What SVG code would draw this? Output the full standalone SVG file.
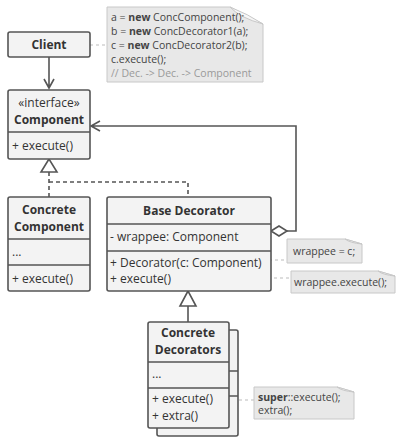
<svg xmlns="http://www.w3.org/2000/svg" width="403" height="445" viewBox="0 0 403 445">
<style>
.box{fill:#f3f3f3;stroke:#555;stroke-width:1.6}
.div{stroke:#555;stroke-width:1.6}
.t{font-family:"Open Sans","Liberation Sans",sans-serif;font-size:12px;fill:#333}
.b{font-weight:bold}
.c{text-anchor:middle}
.n{font-family:"Open Sans","Liberation Sans",sans-serif;font-size:10.5px;fill:#444}
.cm{fill:#9a9a9a}
.note{fill:#e8e8e8;stroke:#c8c8c8;stroke-width:1}
.fold{fill:#f6f6f6;stroke:#c8c8c8;stroke-width:1}
.ln{fill:none;stroke:#555;stroke-width:1.6}
.dash{fill:none;stroke:#555;stroke-width:1.6;stroke-dasharray:4 3}
.dot{fill:none;stroke:#bbb;stroke-width:1.2;stroke-dasharray:3 3}
.pin{fill:#fff;stroke:#999;stroke-width:1}
</style>
<rect width="403" height="445" fill="#fff"/>
<g id="connectors">
<path class="dot" d="M90 45H107"/>
<path class="ln" d="M49 57V88M44 79L49 88L54 79"/>
<path class="dash" d="M49 172V197M49 182H188V197"/>
<polygon points="49,159 41,172 57,172" fill="#fff" stroke="#555" stroke-width="1.6"/>
<path class="ln" d="M287 231H296V126H91M100 121L91 126L100 131"/>
<polygon points="271,231 279,226 287,231 279,236" fill="#fff" stroke="#555" stroke-width="1.6"/>
<path class="ln" d="M188 306V322"/>
<polygon points="188,291 180,306 196,306" fill="#fff" stroke="#555" stroke-width="1.6"/>
<path class="dot" d="M269 260H287"/>
<path class="dot" d="M202 278H291"/>
<path class="dot" d="M227 400H254"/>
<circle class="pin" cx="265" cy="260" r="2.5"/>
<circle class="pin" cx="198" cy="278" r="2.5"/>
<circle class="pin" cx="223" cy="400" r="2.5"/>
</g>
<g id="client">
<rect class="box" x="8" y="32" width="82" height="25" rx="2"/>
<text class="t b c" x="49" y="49">Client</text>
</g>
<g id="component">
<rect class="box" x="8" y="90" width="82" height="69" rx="2"/>
<line class="div" x1="8" y1="132" x2="90" y2="132"/>
<text class="t c" x="49" y="107">«interface»</text>
<text class="t b c" x="49" y="124">Component</text>
<text class="t" x="12" y="150">+ execute()</text>
</g>
<g id="concrete-component">
<rect class="box" x="8" y="197" width="82" height="94" rx="2"/>
<line class="div" x1="8" y1="239" x2="90" y2="239"/>
<line class="div" x1="8" y1="265" x2="90" y2="265"/>
<text class="t b c" x="49" y="214">Concrete</text>
<text class="t b c" x="49" y="231">Component</text>
<text class="t" x="12" y="256">...</text>
<text class="t" x="12" y="283">+ execute()</text>
</g>
<g id="base-decorator">
<rect class="box" x="107" y="197" width="164" height="94" rx="2"/>
<line class="div" x1="107" y1="224" x2="271" y2="224"/>
<line class="div" x1="107" y1="251" x2="271" y2="251"/>
<text class="t b c" x="189" y="215">Base Decorator</text>
<text class="t" x="110" y="241">- wrappee: Component</text>
<text class="t" x="110" y="267">+ Decorator(c: Component)</text>
<text class="t" x="110" y="283">+ execute()</text>
</g>
<g id="concrete-decorators">
<rect class="box" x="157" y="330" width="81" height="106" rx="2"/>
<line class="div" x1="157" y1="371" x2="238" y2="371"/>
<line class="div" x1="157" y1="396" x2="238" y2="396"/>
<rect class="box" x="148" y="322" width="81" height="106" rx="2"/>
<line class="div" x1="148" y1="362" x2="229" y2="362"/>
<line class="div" x1="148" y1="388" x2="229" y2="388"/>
<text class="t b c" x="188" y="337">Concrete</text>
<text class="t b c" x="188" y="354">Decorators</text>
<text class="t" x="152" y="378">...</text>
<text class="t" x="152" y="403">+ execute()</text>
<text class="t" x="152" y="420">+ extra()</text>
</g>
<g id="note-client">
<path class="note" d="M107 7H230L263 24V82H107Z"/>
<path class="fold" d="M230 7Q240 18 263 24Q248 14 230 7Z"/>
<text class="n" x="111" y="21">a = <tspan font-weight="bold">new</tspan> ConcComponent();</text>
<text class="n" x="111" y="35">b = <tspan font-weight="bold">new</tspan> ConcDecorator1(a);</text>
<text class="n" x="111" y="49">c = <tspan font-weight="bold">new</tspan> ConcDecorator2(b);</text>
<text class="n" x="111" y="63">c.execute();</text>
<text class="n cm" x="111" y="77">// Dec. -&gt; Dec. -&gt; Component</text>
</g>
<g id="note-ctor">
<path class="note" d="M287 239H345L362 244V263H287Z"/>
<path class="fold" d="M345 239Q350 243 362 244Q352 241 345 239Z"/>
<text class="n" x="293" y="255">wrappee = c;</text>
</g>
<g id="note-execute">
<path class="note" d="M291 271H378L395 276V293H291Z"/>
<path class="fold" d="M378 271Q383 275 395 276Q385 273 378 271Z"/>
<text class="n" x="294" y="286">wrappee.execute();</text>
</g>
<g id="note-extra">
<path class="note" d="M254 387H337L354 392V419H254Z"/>
<path class="fold" d="M337 387Q342 391 354 392Q344 389 337 387Z"/>
<text class="n" x="258" y="401"><tspan font-weight="bold">super</tspan>::execute();</text>
<text class="n" x="258" y="414">extra();</text>
</g>
</svg>
